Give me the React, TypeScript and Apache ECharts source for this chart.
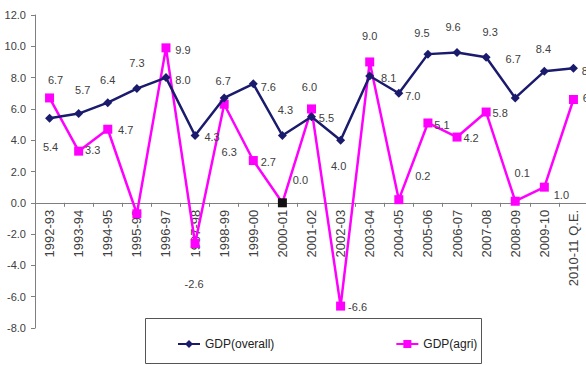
import React, { useEffect, useRef } from "react";
import * as echarts from "echarts";

const categories = [
  "1992-93", "1993-94", "1994-95", "1995-96", "1996-97", "1997-98", "1998-99",
  "1999-00", "2000-01", "2001-02", "2002-03", "2003-04", "2004-05", "2005-06",
  "2006-07", "2007-08", "2008-09", "2009-10", "2010-11 Q.E.",
];

const gdpOverall = [5.4, 5.7, 6.4, 7.3, 8.0, 4.3, 6.7, 7.6, 4.3, 5.5, 4.0, 8.1, 7.0, 9.5, 9.6, 9.3, 6.7, 8.4, 8.6];
const gdpAgri = [6.7, 3.3, 4.7, -0.7, 9.9, -2.6, 6.3, 2.7, 0.0, 6.0, -6.6, 9.0, 0.2, 5.1, 4.2, 5.8, 0.1, 1.0, 6.6];

const yTicks = [-8, -6, -4, -2, 0, 2, 4, 6, 8, 10, 12];

// label placement (offset from the point, in px)
const gdpLabelOffset: [number, number][] = [
  [1, 29], [4, -24], [0, -23], [0, -26], [17, 2], [17, 1], [-1, -17], [15, 3],
  [3, -26], [15, 1], [-2, 26], [19, 2], [14, 3], [-6, -21], [-4, -26], [4, -25],
  [-2, -39], [-1, -22], [16, 3],
];
const agriLabelOffset: ([number, number] | null)[] = [
  [6, -18], [14, -1], [18, 1], null, [17, 2], [-1, 41], [5, 48], [15, 1],
  [18, -23], [-2, -22], [17, 1], [0, -26], [24, -24], [14, 2], [14, 1], [14, 1],
  [7, -28], [17, 8], [17, -2],
];
const agriBlackIndex = 8;

const NAVY = "#1b1b6e";
const MAGENTA = "#ff00ff";
const FONT = "'Liberation Sans', Arial, sans-serif";

const GRID = { left: 35, top: 15, width: 553, height: 313 };

export default function App() {
  const ref = useRef<HTMLDivElement>(null);
  useEffect(() => {
    if (!ref.current) return;
    const chart = echarts.init(ref.current, undefined, { renderer: "svg" });
    const yMin = yTicks[0];
    const yMax = yTicks[yTicks.length - 1];
    // move the category axis up to the zero line
    const zeroOffset = -GRID.height * (0 - yMin) / (yMax - yMin);
    const labelStyle = {
      show: true,
      position: "inside",
      fontSize: 11,
      fontFamily: FONT,
      color: "#404040",
      formatter: (p: any) => Number(p.value).toFixed(1),
    };
    chart.setOption({
      animation: false,
      backgroundColor: "#ffffff",
      grid: { ...GRID, containLabel: false, outerBoundsMode: "none" },
      xAxis: {
        type: "category",
        data: categories,
        boundaryGap: true,
        offset: zeroOffset,
        axisLine: { onZero: false, lineStyle: { color: "#7f7f7f", width: 1 } },
        axisTick: { show: true, interval: 0, length: 4, lineStyle: { color: "#7f7f7f" } },
        axisLabel: {
          interval: 0,
          rotate: 90,
          margin: 7,
          fontSize: 13,
          fontFamily: FONT,
          color: "#404040",
        },
        splitLine: { show: false },
      },
      yAxis: {
        type: "value",
        min: yMin,
        max: yMax,
        interval: 2,
        axisLine: { show: true, lineStyle: { color: "#7f7f7f", width: 1 } },
        axisTick: { show: true, length: 4, lineStyle: { color: "#7f7f7f" } },
        axisLabel: {
          margin: 9,
          fontSize: 11,
          fontFamily: FONT,
          color: "#404040",
          formatter: (v: number) => v.toFixed(1),
        },
        splitLine: { show: false },
      },
      legend: {
        left: 172,
        top: 333,
        itemGap: 121,
        itemWidth: 22,
        itemHeight: 10,
        textStyle: { fontSize: 12, fontFamily: FONT, color: "#222" },
        data: ["GDP(overall)", "GDP(agri)"],
      },
      graphic: [
        {
          type: "rect",
          shape: { x: 145.5, y: 318.5, width: 336, height: 45 },
          style: { fill: "none", stroke: "#555", lineWidth: 1 },
          z: -1,
        },
      ],
      series: [
        {
          name: "GDP(agri)",
          type: "line",
          z: 2,
          symbol: "rect",
          symbolSize: 9,
          lineStyle: { color: MAGENTA, width: 2.5 },
          itemStyle: { color: MAGENTA },
          data: gdpAgri.map((v, i) => {
            const off = agriLabelOffset[i];
            const item: any = {
              value: v,
              label: off ? { ...labelStyle, offset: off } : { show: false },
            };
            if (i === agriBlackIndex) item.itemStyle = { color: "#111" };
            return item;
          }),
        },
        {
          name: "GDP(overall)",
          type: "line",
          z: 3,
          symbol: "diamond",
          symbolSize: 9,
          lineStyle: { color: NAVY, width: 2.5 },
          itemStyle: { color: NAVY },
          data: gdpOverall.map((v, i) => ({
            value: v,
            label: { ...labelStyle, offset: gdpLabelOffset[i] },
          })),
        },
      ],
    });
    return () => chart.dispose();
  }, []);
  return (
    <div
      ref={ref}
      style={{ position: "absolute", left: 0, top: 0, width: 586, height: 365 }}
    />
  );
}
